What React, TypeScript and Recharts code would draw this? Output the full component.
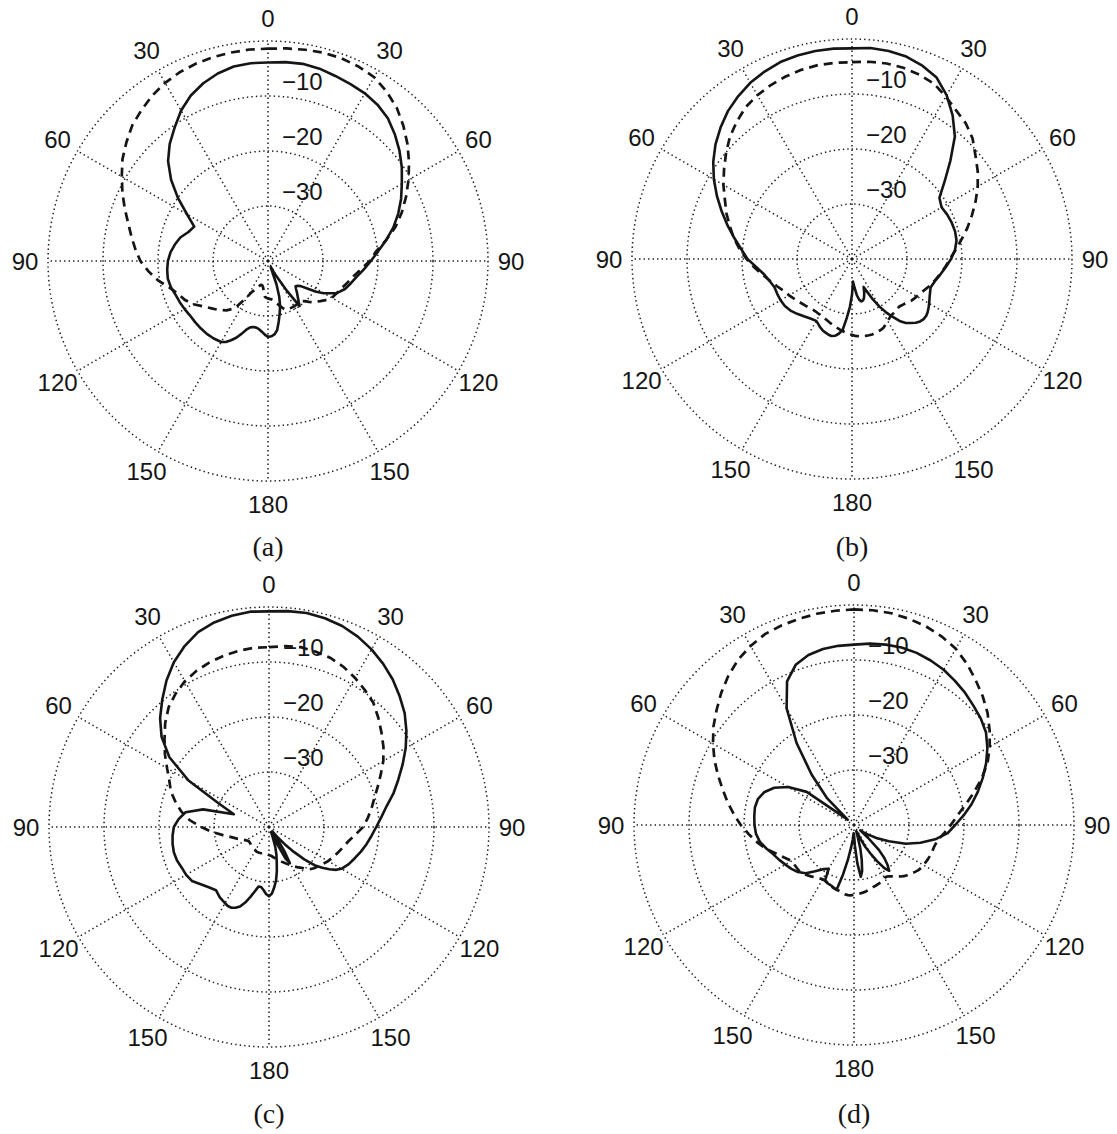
import { RadarChart, Radar, PolarGrid, PolarAngleAxis, PolarRadiusAxis } from "recharts"

// angle in degrees, clockwise from the top; finer steps where the nulls are
const angles = [
  0, 5, 10, 15, 20, 25, 30, 35, 40, 45, 50, 55,
  60, 65, 70, 75, 80, 85, 90, 95, 100, 105, 110, 115,
  120, 122.5, 125, 127.5, 130, 132.5, 135, 137.5, 140, 142.5, 145, 147.5,
  150, 152.5, 155, 157.5, 160, 162.5, 165, 167.5, 170, 172.5, 175, 177.5,
  180, 182.5, 185, 187.5, 190, 192.5, 195, 197.5, 200, 202.5, 205, 207.5,
  210, 215, 220, 225, 230, 235, 240, 245, 250, 255, 260, 265,
  270, 275, 280, 285, 290, 295, 300, 305, 310, 315, 320, 325,
  330, 335, 340, 345, 350, 355,
]

const angleTicks = [0, 30, 60, 90, 120, 150, 180, 210, 240, 270, 300, 330]
const radiusTicks = [-40, -30, -20, -10, 0]

// (a)
const aSolid = [
  -3.9, -3.7, -3.6, -3.8, -4.2, -4.5, -4.8, -5.3, -6.1, -7.4, -8.8, -10.3,
  -11.9, -13.3, -14.8, -16.4, -18.2, -19.9, -21.3, -22.5, -23.6, -24.4, -25.1, -26.2,
  -28.3, -29.6, -31.3, -32.5, -33.0, -33.2, -32.8, -32.2, -31.6, -30.9, -30.0, -33.5,
  -36.2, -37.5, -38.8, -38.5, -35.5, -33.2, -31.5, -30.2, -28.8, -27.3, -26.6, -26.3,
  -26.2, -26.6, -27.1, -27.5, -27.7, -27.7, -27.5, -26.9, -25.9, -24.9, -24.1, -23.4,
  -23.0, -22.8, -22.7, -22.7, -22.7, -22.7, -22.5, -22.3, -22.1, -21.7, -21.5, -21.6,
  -21.8, -22.2, -22.8, -23.5, -24.6, -25.2, -23.0, -20.0, -17.0, -14.3, -12.2, -10.4,
  -8.4, -6.8, -5.6, -4.7, -4.1, -3.9,
]
const aDashed = [
  -1.4, -1.2, -1.0, -0.8, -0.8, -1.0, -1.4, -2.4, -3.6, -5.2, -6.9, -8.7,
  -10.5, -12.3, -14.1, -16.0, -18.2, -20.3, -21.5, -23.0, -24.2, -25.0, -25.7, -26.2,
  -26.6, -27.0, -27.5, -28.0, -28.5, -28.9, -29.5, -30.1, -30.5, -30.6, -30.6, -30.5,
  -30.5, -30.5, -30.5, -30.5, -30.6, -31.0, -31.5, -32.0, -32.4, -32.8, -33.0, -33.1,
  -33.2, -33.3, -33.5, -34.2, -35.0, -35.4, -35.5, -35.4, -35.0, -34.6, -34.1, -33.7,
  -32.5, -29.5, -28.3, -27.4, -26.6, -25.6, -24.3, -23.3, -22.6, -21.4, -19.7, -18.2,
  -16.8, -15.8, -14.8, -13.7, -12.3, -10.8, -9.3, -7.7, -6.4, -5.1, -4.2, -3.3,
  -2.6, -2.1, -1.8, -1.6, -1.5, -1.4,
]

// (b)
const bSolid = [
  -1.7, -1.5, -1.6, -1.9, -2.6, -3.6, -5.6, -8.1, -10.9, -14.7, -18.0, -20.6,
  -21.2, -20.9, -20.7, -20.6, -20.7, -21.2, -22.0, -22.9, -23.7, -24.4, -24.8, -24.4,
  -23.8, -23.5, -23.2, -23.0, -23.0, -23.2, -23.6, -24.2, -24.8, -25.8, -27.2, -28.5,
  -30.0, -31.6, -33.3, -34.5, -33.5, -32.7, -32.2, -32.1, -32.5, -33.4, -34.8, -35.9,
  -33.5, -31.3, -29.3, -27.0, -26.2, -25.7, -25.5, -25.6, -25.8, -26.0, -26.3, -26.7,
  -27.0, -26.8, -26.4, -25.9, -25.4, -25.1, -25.0, -25.0, -25.0, -24.5, -23.8, -22.6,
  -21.0, -19.8, -18.3, -16.6, -14.8, -12.9, -11.0, -9.2, -7.6, -6.2, -4.9, -3.9,
  -3.0, -2.4, -1.9, -1.7, -1.6, -1.6,
]
const bDashed = [
  -4.2, -4.0, -3.9, -4.0, -4.3, -4.8, -5.9, -7.0, -7.8, -9.0, -10.7, -12.1,
  -13.6, -15.2, -16.8, -18.3, -19.8, -21.1, -22.2, -23.0, -23.8, -24.5, -25.2, -25.9,
  -26.4, -26.6, -26.8, -27.1, -27.4, -27.6, -27.8, -27.8, -27.7, -27.6, -27.5, -27.3,
  -27.0, -26.7, -26.3, -26.1, -26.0, -25.9, -25.8, -25.8, -25.8, -25.8, -25.9, -26.0,
  -26.2, -26.4, -26.6, -26.8, -27.0, -27.2, -27.4, -27.6, -27.8, -28.0, -28.1, -28.2,
  -28.3, -28.4, -28.3, -28.0, -27.7, -27.3, -26.8, -26.3, -25.5, -24.6, -23.5, -22.2,
  -20.8, -19.5, -18.2, -17.0, -15.7, -14.5, -13.0, -11.6, -10.1, -8.6, -7.4, -6.3,
  -5.6, -5.1, -4.7, -4.4, -4.2, -4.2,
]

// (c)
const cSolid = [
  -0.8, -0.6, -0.5, -0.7, -1.1, -1.8, -2.7, -3.8, -5.0, -6.4, -7.8, -9.5,
  -11.3, -13.2, -15.0, -16.6, -18.3, -19.5, -20.5, -21.3, -22.0, -22.7, -23.4, -24.0,
  -24.8, -25.5, -26.6, -27.8, -29.2, -31.3, -33.6, -35.7, -37.5, -39.0, -37.5, -34.8,
  -32.4, -33.5, -37.0, -39.0, -38.0, -36.2, -34.8, -33.5, -31.8, -30.2, -29.0, -27.9,
  -27.4, -27.8, -28.5, -29.0, -29.0, -28.0, -26.8, -25.6, -24.6, -24.1, -23.8, -23.8,
  -24.0, -24.4, -25.0, -24.5, -23.8, -22.9, -22.6, -22.5, -22.2, -22.1, -22.2, -22.4,
  -22.7, -23.5, -24.6, -27.6, -33.2, -30.0, -23.1, -17.9, -14.5, -12.0, -9.8, -7.5,
  -5.4, -3.7, -2.3, -1.5, -1.0, -0.7,
]
const cDashed = [
  -7.3, -7.0, -6.8, -7.0, -7.3, -7.9, -8.7, -9.6, -10.5, -11.9, -13.3, -14.6,
  -16.0, -17.6, -19.0, -20.2, -21.1, -22.0, -22.9, -24.2, -25.3, -26.0, -26.6, -27.1,
  -27.6, -27.9, -28.2, -28.5, -28.7, -28.9, -29.2, -29.6, -30.2, -30.7, -31.1, -31.5,
  -31.9, -32.3, -32.7, -33.0, -33.3, -33.6, -33.9, -34.1, -34.3, -34.5, -34.7, -34.8,
  -34.9, -35.0, -35.1, -35.2, -35.2, -35.2, -35.1, -35.0, -35.0, -35.0, -35.0, -35.0,
  -35.1, -35.2, -35.3, -35.4, -35.5, -35.5, -35.2, -34.6, -33.8, -32.9, -31.5, -29.6,
  -27.7, -25.5, -23.8, -22.4, -21.0, -20.0, -18.6, -16.9, -15.2, -13.3, -11.6, -10.4,
  -9.4, -8.7, -8.2, -7.8, -7.5, -7.3,
]

// (d)
const dSolid = [
  -7.2, -6.9, -6.7, -6.6, -6.7, -7.0, -7.4, -8.0, -8.6, -9.3, -9.9, -10.7,
  -12.0, -13.5, -15.1, -16.7, -18.3, -20.0, -21.6, -22.9, -25.0, -27.5, -30.0, -33.0,
  -35.3, -36.4, -37.0, -37.8, -38.5, -36.5, -33.6, -31.8, -30.5, -29.5, -30.5, -32.2,
  -34.0, -35.5, -37.3, -38.6, -38.8, -37.8, -35.5, -33.5, -31.5, -30.5, -33.0, -36.2,
  -38.2, -38.5, -37.3, -35.8, -33.5, -30.8, -27.8, -28.0, -28.2, -28.3, -28.4, -28.6,
  -30.8, -30.2, -29.0, -27.6, -26.7, -26.1, -25.6, -25.0, -24.4, -23.5, -22.6, -22.1,
  -21.9, -21.8, -21.7, -21.9, -22.6, -24.0, -26.2, -29.5, -38.5, -33.0, -28.0, -21.8,
  -15.5, -11.2, -9.0, -8.0, -7.5, -7.3,
]
const dDashed = [
  -0.8, -0.8, -0.9, -1.2, -1.6, -2.2, -3.0, -4.2, -5.6, -6.9, -8.3, -9.9,
  -11.5, -13.2, -15.3, -17.5, -19.5, -21.2, -22.4, -23.5, -24.5, -24.9, -25.0, -25.2,
  -25.4, -25.5, -25.7, -26.0, -26.3, -26.6, -26.9, -27.3, -27.8, -28.2, -28.6, -28.9,
  -28.9, -28.7, -28.5, -28.4, -28.3, -28.2, -28.0, -27.9, -27.7, -27.6, -27.5, -27.4,
  -27.3, -27.2, -27.2, -27.3, -27.5, -27.7, -27.8, -27.9, -28.1, -28.3, -28.5, -28.6,
  -28.6, -28.3, -27.8, -27.3, -27.0, -27.0, -26.9, -26.0, -24.9, -23.4, -22.1, -20.8,
  -19.4, -18.1, -16.7, -15.3, -13.7, -12.0, -10.4, -8.8, -7.4, -5.9, -4.5, -3.3,
  -2.4, -1.7, -1.4, -1.2, -1.0, -0.9,
]

const LABEL_FONT = "'Liberation Sans', Arial, Helvetica, sans-serif"
const INK = "#151515"

const panels = [
  { caption: "(a)", solid: aSolid, dashed: aDashed, left: 0, top: 0, cx: 268, cy: 261 },
  { caption: "(b)", solid: bSolid, dashed: bDashed, left: 558, top: 0, cx: 294, cy: 259 },
  { caption: "(c)", solid: cSolid, dashed: cDashed, left: 0, top: 567, cx: 269, cy: 260 },
  { caption: "(d)", solid: dSolid, dashed: dDashed, left: 558, top: 567, cx: 296, cy: 258 },
]

function AngleTick(props: any) {
  const { x, y, payload } = props
  const v = payload.value
  const label = v <= 180 ? v : 360 - v
  return (
    <text x={x} y={y} textAnchor="middle" dominantBaseline="central" fontSize={24} fontFamily={LABEL_FONT} fill={INK}>
      {label}
    </text>
  )
}

function RadiusTick(props: any) {
  const { x, y, payload } = props
  const v = payload.value
  if (v <= -40 || v >= 0) return <g />
  return (
    <text x={x + 14} y={y - 15} textAnchor="start" dominantBaseline="central" fontSize={24} fontFamily={LABEL_FONT} fill={INK}>
      {"\u2212" + Math.abs(v)}
    </text>
  )
}

function Panel({ solid, dashed, cx, cy }: { solid: number[]; dashed: number[]; cx: number; cy: number }) {
  const data = angles.map((angle, i) => ({ angle, solid: solid[i], dashed: dashed[i] }))
  return (
    <RadarChart
      width={558}
      height={567}
      data={data}
      cx={cx}
      cy={cy}
      outerRadius={220}
      startAngle={90}
      endAngle={-270}
      margin={{ top: 0, right: 0, bottom: 0, left: 0 }}
    >
      <PolarGrid gridType="circle" stroke="#1e1e1e" strokeWidth={1.5} strokeDasharray="1.4 3.1" />
      <PolarAngleAxis
        dataKey="angle"
        type="number"
        domain={[0, 360]}
        ticks={angleTicks}
        tick={<AngleTick />}
        tickLine={false}
        axisLine={false}
        tickSize={23}
      />
      <PolarRadiusAxis
        angle={90}
        type="number"
        domain={[-40, 0]}
        ticks={radiusTicks}
        tick={<RadiusTick />}
        axisLine={false}
        tickLine={false}
      />
      <Radar
        dataKey="dashed"
        stroke={INK}
        strokeWidth={2.7}
        strokeDasharray="9 6"
        fill="none"
        fillOpacity={0}
        dot={false}
        isAnimationActive={false}
      />
      <Radar
        dataKey="solid"
        stroke={INK}
        strokeWidth={2.6}
        strokeLinejoin="round"
        fill="none"
        fillOpacity={0}
        dot={false}
        isAnimationActive={false}
      />
    </RadarChart>
  )
}

export default function App() {
  return (
    <div style={{ position: "absolute", left: 0, top: 0, width: 1117, height: 1134, background: "#fff" }}>
      {panels.map((p) => (
        <div key={p.caption} style={{ position: "absolute", left: p.left, top: p.top, width: 558, height: 567 }}>
          <Panel solid={p.solid} dashed={p.dashed} cx={p.cx} cy={p.cy} />
          <div
            style={{
              position: "absolute",
              left: p.cx - 50,
              top: 531,
              width: 100,
              textAlign: "center",
              fontFamily: "'Liberation Serif', 'Times New Roman', serif",
              fontSize: 28,
              lineHeight: "32px",
              color: INK,
            }}
          >
            {p.caption}
          </div>
        </div>
      ))}
    </div>
  )
}
